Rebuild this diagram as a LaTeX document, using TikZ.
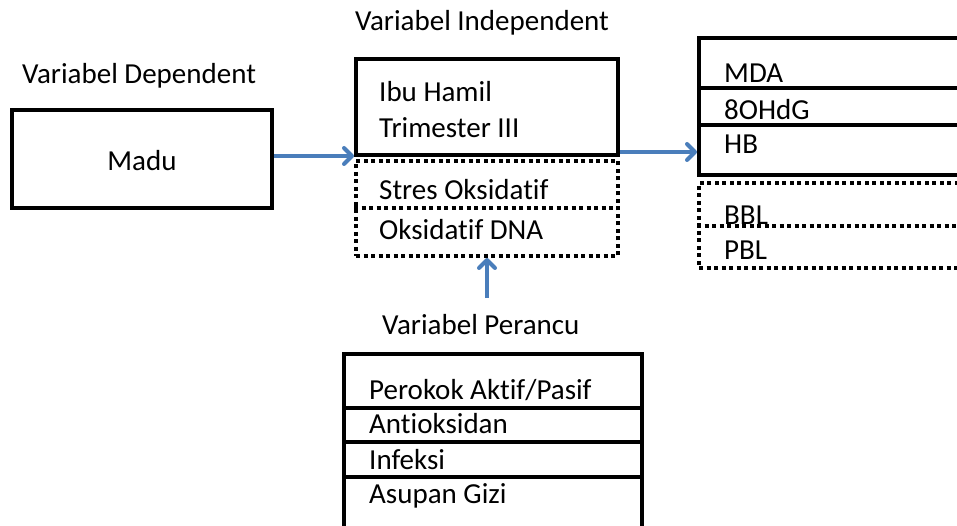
\documentclass[tikz,border=0pt]{standalone}
\usepackage{fontspec}
\setmainfont[Ligatures=NoCommon]{Carlito}
\usetikzlibrary{arrows.meta}
\definecolor{arrblue}{HTML}{4A7EBB}
\tikzset{
  x=1pt, y=-1pt,
  solidbox/.style={draw=black, line width=4pt, rectangle, inner sep=0pt},
  dotbox/.style={draw=black, line width=4pt, dash pattern=on 4pt off 3.5pt, rectangle, inner sep=0pt},
  solidline/.style={draw=black, line width=4pt},
  dotline/.style={draw=black, line width=4pt, dash pattern=on 4pt off 3.5pt},
  txt/.style={font=\fontsize{29}{34}\selectfont, inner sep=0pt, anchor=west},
  arr/.style={draw=arrblue, line width=4pt, -{Straight Barb[length=8pt,width=16pt,line cap=round,line join=round]}}
}
\begin{document}
\begin{tikzpicture}
\useasboundingbox (0,0) rectangle (957,526);
\clip (0,0) rectangle (957,526);
% Labels
\node[txt] (lbldep) at (22,76) {Variabel Dependent};
\node[txt] (lblind) at (355,23) {Variabel Independent};
\node[txt] (lblper) at (382,325) {Variabel Perancu};
% Madu
\node[solidbox, minimum width=260, minimum height=98] (madu) at (142,159) {};
\node[font=\fontsize{29}{34}\selectfont, inner sep=0pt] (madutxt) at (142,161) {Madu};
% Independent
\node[solidbox, minimum width=262, minimum height=96] (ibu) at (487,107) {};
\node[txt] (ibu1) at (379,92) {Ibu Hamil};
\node[txt] (ibu2) at (379,128) {Trimester III};
\node[dotbox, minimum width=262, minimum height=95] (ox) at (487,208.5) {};
\draw[dotline] (ox.west |- 0,208) -- (ox.east |- 0,208);
\node[txt] (ox1) at (379,190) {Stres Oksidatif};
\node[txt] (ox2) at (379,230) {Oksidatif DNA};
% Outcome
\node[solidbox, minimum width=301, minimum height=137] (out) at (849.5,106.5) {};
\draw[solidline] (out.west |- 0,88) -- (out.east |- 0,88);
\draw[solidline] (out.west |- 0,125) -- (out.east |- 0,125);
\node[txt] (o1) at (724,73) {MDA};
\node[txt] (o2) at (724,110) {8OHdG};
\node[txt] (o3) at (724,144) {HB};
\node[dotbox, minimum width=301, minimum height=85] (out2) at (849.5,225.5) {};
\draw[dotline] (out2.west |- 0,226) -- (out2.east |- 0,226);
\node[txt] (o4) at (724,215) {BBL};
\node[txt] (o5) at (724,250) {PBL};
% Perancu
\node[solidbox, minimum width=298, minimum height=220] (per) at (493,464) {};
\draw[solidline] (per.west |- 0,408) -- (per.east |- 0,408);
\draw[solidline] (per.west |- 0,442) -- (per.east |- 0,442);
\draw[solidline] (per.west |- 0,477) -- (per.east |- 0,477);
\node[txt] (p1) at (369,390) {Perokok Aktif/Pasif};
\node[txt] (p2) at (369,424) {Antioksidan};
\node[txt] (p3) at (369,460) {Infeksi};
\node[txt] (p4) at (369,496) {Asupan Gizi};
% Arrows
\draw[arr] (madu.east |- 0,156) -- (ibu.west |- 0,156);
\draw[arr] (ibu.east |- 0,152) -- (out.west |- 0,152);
\coordinate (c3) at (487,298);
\draw[arr] (c3) -- (ox.south);
\end{tikzpicture}
\end{document}
